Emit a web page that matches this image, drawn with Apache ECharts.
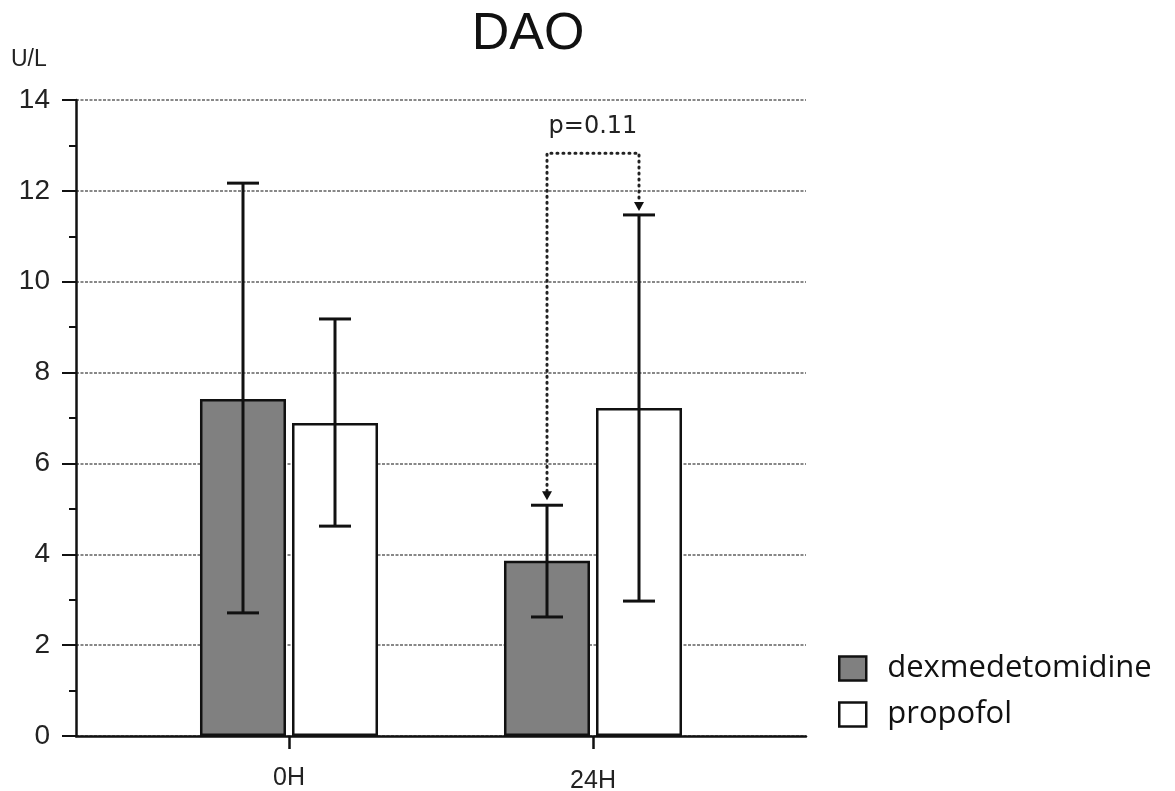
<!DOCTYPE html>
<html>
<head>
<meta charset="utf-8">
<script src="https://cdn.jsdelivr.net/npm/echarts@6/dist/echarts.min.js"></script>
<style>
html,body{margin:0;padding:0;background:#fff;}
#chart{width:1175px;height:791px;}
</style>
</head>
<body>
<div id="chart"></div>
<script>
// ---- data ----
const categories = ['0H', '24H'];
const seriesNames = ['dexmedetomidine', 'propofol'];
const dexMean = [7.42, 3.86];
const dexLow = [2.71, 2.62];
const dexHigh = [12.17, 5.08];
const propMean = [6.89, 7.22];
const propLow = [4.62, 2.97];
const propHigh = [9.18, 11.47];
const yTicks = [0, 2, 4, 6, 8, 10, 12, 14];
const pLabel = 'p=0.11';
const bracketCategory = 1;
const bracketTop = 12.83;

// ---- style ----
const BAR_W = 86;
const HALF = 46; // half of (bar width + gap)
const AX = 'Liberation Sans, Arial, sans-serif';

function errorRender(offset) {
  return function (params, api) {
    const c = api.value(0);
    const lo = api.coord([c, api.value(1)]);
    const hi = api.coord([c, api.value(2)]);
    const x = hi[0] + offset;
    const hw = 16;
    const st = { stroke: '#111', lineWidth: 3 };
    return {
      type: 'group',
      children: [
        { type: 'line', shape: { x1: x, y1: hi[1], x2: x, y2: lo[1] }, style: st },
        { type: 'line', shape: { x1: x - hw, y1: hi[1], x2: x + hw, y2: hi[1] }, style: st },
        { type: 'line', shape: { x1: x - hw, y1: lo[1], x2: x + hw, y2: lo[1] }, style: st }
      ]
    };
  };
}

function bracketRender(params, api) {
  const c = api.value(0);
  const l = api.coord([c, api.value(1)]);
  const r = api.coord([c, api.value(2)]);
  const t = api.coord([c, api.value(3)]);
  const xl = l[0] - HALF, xr = l[0] + HALF;
  const yl = l[1] - 5, yr = r[1] - 4, yt = t[1];
  const dot = { stroke: '#222', lineWidth: 3, lineDash: [1, 5], lineCap: 'round', fill: null };
  const ah = 9, aw = 5;
  return {
    type: 'group',
    children: [
      { type: 'polyline', shape: { points: [[xl, yl - ah], [xl, yt], [xr, yt], [xr, yr - ah]] }, style: dot },
      { type: 'polygon', shape: { points: [[xl - aw, yl - ah], [xl + aw, yl - ah], [xl, yl]] }, style: { fill: '#111' } },
      { type: 'polygon', shape: { points: [[xr - aw, yr - ah], [xr + aw, yr - ah], [xr, yr]] }, style: { fill: '#111' } },
      { type: 'text', x: (xl + xr) / 2, y: yt - 26,
        style: { text: pLabel, fill: '#222', font: '24px "DejaVu Sans", sans-serif', align: 'center', verticalAlign: 'middle' } }
    ]
  };
}

const chart = echarts.init(document.getElementById('chart'), null, { renderer: 'canvas' });
chart.setOption({
  animation: false,
  backgroundColor: '#fff',
  title: {
    text: 'DAO', left: 523, top: 4, textAlign: 'center',
    textStyle: { fontFamily: AX, fontSize: 52, fontWeight: 'normal', color: '#111' }
  },
  graphic: [
    { type: 'text', left: 11, top: 48, style: { text: 'U/L', font: '23px ' + AX, fill: '#222' } }
  ],
  legend: {
    orient: 'vertical', left: 833, top: 648, itemWidth: 27, itemHeight: 24, itemGap: 15,
    icon: 'rect', data: seriesNames,
    itemStyle: { borderColor: '#111', borderWidth: 2.5 },
    textStyle: { fontFamily: '"Open Sans", sans-serif', fontSize: 31, color: '#111', padding: [0, 0, 0, 16] }
  },
  grid: [
    { left: 76, right: 369, top: 100, bottom: 55, outerBoundsMode: 'none', containLabel: false },
    { left: 137, right: 430, top: 100, bottom: 55, outerBoundsMode: 'none', containLabel: false }
  ],
  xAxis: [
    { type: 'value', gridIndex: 0, min: 0, max: 1,
      axisLine: { show: true, onZero: false, lineStyle: { color: '#111', width: 2.5 } },
      axisTick: { show: false }, axisLabel: { show: false }, splitLine: { show: false } },
    { type: 'category', gridIndex: 1, data: categories,
      axisLine: { show: false },
      axisTick: { show: true, alignWithLabel: true, length: 13, lineStyle: { color: '#111', width: 2.5 } },
      axisLabel: { fontFamily: AX, fontSize: 25, color: '#222', margin: 30,
        formatter: function (v, i) { return i === 1 ? '{b|' + v + '}' : '{a|' + v + '}'; },
        rich: { a: { fontFamily: AX, fontSize: 25, color: '#222' },
                b: { fontFamily: AX, fontSize: 25, color: '#222', padding: [3, 0, 0, 0] } } } }
  ],
  yAxis: [
    { type: 'value', gridIndex: 0, min: yTicks[0], max: yTicks[yTicks.length - 1], interval: 2,
      axisLine: { show: true, lineStyle: { color: '#111', width: 2.5 } },
      axisTick: { show: true, length: 14, lineStyle: { color: '#111', width: 2 } },
      minorTick: { show: true, splitNumber: 2, length: 7, lineStyle: { color: '#111', width: 2 } },
      axisLabel: { fontFamily: AX, fontSize: 28, color: '#222', margin: 26 },
      splitLine: { show: true, lineStyle: { color: '#888', width: 2, type: [3, 1.5] } } },
    { type: 'value', gridIndex: 1, min: yTicks[0], max: yTicks[yTicks.length - 1], show: false }
  ],
  series: [
    { name: seriesNames[0], type: 'bar', xAxisIndex: 1, yAxisIndex: 1, data: dexMean,
      barWidth: BAR_W, barGap: '7%',
      itemStyle: { color: '#808080', borderColor: '#111', borderWidth: 2.5 } },
    { name: seriesNames[1], type: 'bar', xAxisIndex: 1, yAxisIndex: 1, data: propMean,
      barWidth: BAR_W, barGap: '7%',
      itemStyle: { color: '#fff', borderColor: '#111', borderWidth: 2.5 } },
    { type: 'custom', xAxisIndex: 1, yAxisIndex: 1, renderItem: errorRender(-HALF), z: 5,
      encode: { x: 0, y: [1, 2] },
      data: categories.map((c, i) => [i, dexLow[i], dexHigh[i]]) },
    { type: 'custom', xAxisIndex: 1, yAxisIndex: 1, renderItem: errorRender(HALF), z: 5,
      encode: { x: 0, y: [1, 2] },
      data: categories.map((c, i) => [i, propLow[i], propHigh[i]]) },
    { type: 'custom', xAxisIndex: 1, yAxisIndex: 1, renderItem: bracketRender, z: 6,
      encode: { x: 0, y: [1, 2, 3] },
      data: [[bracketCategory, dexHigh[bracketCategory], propHigh[bracketCategory], bracketTop]] }
  ]
});
</script>
</body>
</html>
